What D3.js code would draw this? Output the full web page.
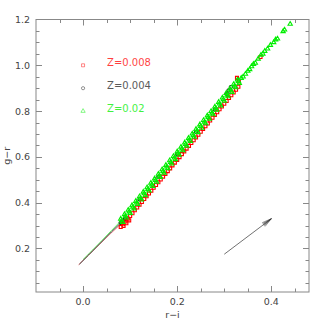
<!DOCTYPE html>
<html>
<head>
<meta charset="utf-8">
<script src="https://d3js.org/d3.v7.min.js"></script>
<style>
  body { margin: 0; background: #fff; }
  text { font-family: "DejaVu Sans", sans-serif; }
</style>
</head>
<body>
<svg id="chart" width="327" height="327"></svg>
<script>

// legend entries
var labels  = ["Z=0.008", "Z=0.004", "Z=0.02"];
var colours = ["#ff0000", "#222222", "#00ee00"];

var xTicks = [0.0, 0.2, 0.4];
var yTicks = [0.2, 0.4, 0.6, 0.8, 1.0, 1.2];

// thin tails of the tracks (drawn as lines)
var tailRed   = [[-0.010, 0.128], [0.010, 0.168], [0.035, 0.218], [0.060, 0.268], [0.082, 0.308]];
var tailBlack = [[-0.008, 0.131], [0.012, 0.172], [0.037, 0.224], [0.060, 0.272], [0.080, 0.312]];
var tailGreen = [[0.000, 0.152], [0.020, 0.193], [0.040, 0.235], [0.060, 0.278], [0.080, 0.320]];

// Z=0.008, squares
var red = [
  [0.080, 0.294], [0.085, 0.306], [0.090, 0.318], [0.095, 0.330], [0.100, 0.342],
  [0.086, 0.298], [0.092, 0.310], [0.098, 0.323],
  [0.105, 0.354], [0.110, 0.367], [0.115, 0.379], [0.120, 0.391], [0.125, 0.403],
  [0.130, 0.416], [0.135, 0.428], [0.140, 0.440], [0.145, 0.452], [0.150, 0.465],
  [0.155, 0.477], [0.160, 0.489], [0.165, 0.501], [0.170, 0.514], [0.175, 0.526],
  [0.180, 0.538], [0.185, 0.550], [0.190, 0.563], [0.195, 0.575], [0.200, 0.587],
  [0.205, 0.599], [0.210, 0.612], [0.215, 0.624], [0.220, 0.636], [0.225, 0.648],
  [0.230, 0.661], [0.235, 0.673], [0.240, 0.685], [0.245, 0.697], [0.250, 0.710],
  [0.255, 0.722], [0.260, 0.734], [0.265, 0.746], [0.270, 0.759], [0.275, 0.771],
  [0.280, 0.783], [0.285, 0.795], [0.290, 0.808], [0.295, 0.820], [0.300, 0.832],
  [0.305, 0.844], [0.310, 0.857], [0.315, 0.869], [0.320, 0.881], [0.325, 0.893],
  [0.330, 0.906], [0.331, 0.929], [0.327, 0.945], [0.377, 1.036]
];

// Z=0.004, circles
var black = [
  [0.080, 0.312], [0.083, 0.318], [0.086, 0.322], [0.089, 0.330], [0.092, 0.334],
  [0.120, 0.415], [0.160, 0.513], [0.200, 0.611], [0.240, 0.709], [0.280, 0.807],
  [0.305, 0.875], [0.309, 0.890], [0.314, 0.905]
];

// Z=0.02, triangles (upper edge, centre and lower edge of the band, then the sparse top)
var green = [
  [0.080, 0.329], [0.088, 0.349], [0.096, 0.368], [0.104, 0.388], [0.112, 0.407],
  [0.120, 0.427], [0.128, 0.447], [0.136, 0.466], [0.144, 0.486], [0.152, 0.505],
  [0.160, 0.525], [0.168, 0.545], [0.176, 0.564], [0.184, 0.584], [0.192, 0.603],
  [0.200, 0.623], [0.208, 0.643], [0.216, 0.662], [0.224, 0.682], [0.232, 0.701],
  [0.240, 0.721], [0.248, 0.741], [0.256, 0.760], [0.264, 0.780], [0.272, 0.799],
  [0.280, 0.819], [0.288, 0.839], [0.296, 0.858], [0.304, 0.878], [0.312, 0.897],
  [0.320, 0.917], [0.328, 0.937],
  [0.082, 0.322], [0.090, 0.342], [0.098, 0.361], [0.106, 0.381], [0.114, 0.400],
  [0.122, 0.420], [0.130, 0.440], [0.138, 0.459], [0.146, 0.479], [0.154, 0.498],
  [0.162, 0.518], [0.170, 0.538], [0.178, 0.557], [0.186, 0.577], [0.194, 0.596],
  [0.202, 0.616], [0.210, 0.636], [0.218, 0.655], [0.226, 0.675], [0.234, 0.694],
  [0.242, 0.714], [0.250, 0.734], [0.258, 0.753], [0.266, 0.773], [0.274, 0.792],
  [0.282, 0.812], [0.290, 0.832], [0.298, 0.851], [0.306, 0.871], [0.314, 0.890],
  [0.322, 0.910], [0.330, 0.930],
  [0.084, 0.315], [0.092, 0.334], [0.100, 0.354], [0.108, 0.374], [0.116, 0.393],
  [0.124, 0.413], [0.132, 0.432], [0.140, 0.452], [0.148, 0.472], [0.156, 0.491],
  [0.164, 0.511], [0.172, 0.530], [0.180, 0.550], [0.188, 0.570], [0.196, 0.589],
  [0.204, 0.609], [0.212, 0.628], [0.220, 0.648], [0.228, 0.668], [0.236, 0.687],
  [0.244, 0.707], [0.252, 0.726], [0.260, 0.746], [0.268, 0.766], [0.276, 0.785],
  [0.284, 0.805], [0.292, 0.824], [0.300, 0.844], [0.308, 0.864], [0.316, 0.883],
  [0.324, 0.903], [0.332, 0.922],
  [0.336, 0.944], [0.340, 0.950], [0.345, 0.962], [0.350, 0.975], [0.354, 0.982],
  [0.358, 0.995], [0.362, 1.005], [0.366, 1.010], [0.372, 1.028], [0.378, 1.045],
  [0.382, 1.050], [0.386, 1.062], [0.392, 1.072], [0.398, 1.088], [0.405, 1.100],
  [0.409, 1.112], [0.413, 1.116], [0.425, 1.148], [0.428, 1.155], [0.440, 1.180]
];

// reddening arrow
var arrow = [[0.30, 0.175], [0.40, 0.330]];

var padL = 36, padR = 309, padT = 19.5, padB = 292;

var x = d3.scaleLinear().domain([-0.1, 0.48]).range([padL, padR]);
var y = d3.scaleLinear().domain([0.01, 1.2]).range([padB, padT]);

var svg = d3.select("#chart");
var axisCol = "#888";
var textCol = "#444";

// frame
svg.append("rect")
  .attr("x", padL).attr("y", padT)
  .attr("width", padR - padL).attr("height", padB - padT)
  .attr("fill", "none").attr("stroke", axisCol).attr("stroke-width", 1);

// ticks on all four sides
var minorX = d3.range(-0.05, 0.48, 0.05);
var minorY = d3.range(0.05, 1.2, 0.05);

function isMajor(v) { return Math.abs(v * 5 - Math.round(v * 5)) < 1e-6; }

minorX.forEach(function(v) {
  var len = isMajor(v) ? 6 : 3.5;
  var px = Math.round(x(v)) + 0.5;
  svg.append("line").attr("x1", px).attr("x2", px).attr("y1", padB).attr("y2", padB - len)
    .attr("stroke", axisCol);
  svg.append("line").attr("x1", px).attr("x2", px).attr("y1", padT).attr("y2", padT + len)
    .attr("stroke", axisCol);
});

minorY.forEach(function(v) {
  var len = isMajor(v) ? 6 : 3.5;
  var py = Math.round(y(v)) + 0.5;
  svg.append("line").attr("x1", padL).attr("x2", padL + len).attr("y1", py).attr("y2", py)
    .attr("stroke", axisCol);
  svg.append("line").attr("x1", padR).attr("x2", padR - len).attr("y1", py).attr("y2", py)
    .attr("stroke", axisCol);
});

// tick labels
svg.selectAll(".xl").data(xTicks).enter().append("text")
  .attr("x", function(d) { return x(d); })
  .attr("y", padB + 13)
  .attr("text-anchor", "middle")
  .attr("font-size", 9.5)
  .attr("fill", textCol)
  .text(function(d) { return d.toFixed(1); });

svg.selectAll(".yl").data(yTicks).enter().append("text")
  .attr("x", padL - 6)
  .attr("y", function(d) { return y(d) + 3.5; })
  .attr("text-anchor", "end")
  .attr("font-size", 9.5)
  .attr("fill", textCol)
  .text(function(d) { return d.toFixed(1); });

// axis titles
svg.append("text")
  .attr("x", (padL + padR) / 2).attr("y", 318)
  .attr("text-anchor", "middle").attr("font-size", 9.5).attr("fill", textCol)
  .text("r\u2212i");

svg.append("text")
  .attr("transform", "translate(10," + ((padT + padB) / 2) + ") rotate(-90)")
  .attr("text-anchor", "middle").attr("font-size", 9.5).attr("fill", textCol)
  .text("g\u2212r");

// tails
var line = d3.line()
  .x(function(d) { return x(d[0]); })
  .y(function(d) { return y(d[1]); });

svg.append("path").attr("d", line(tailRed)).attr("fill", "none")
  .attr("stroke", "#ff8080").attr("stroke-width", 0.8);
svg.append("path").attr("d", line(tailGreen)).attr("fill", "none")
  .attr("stroke", "#44ee44").attr("stroke-width", 0.8);
svg.append("path").attr("d", line(tailBlack)).attr("fill", "none")
  .attr("stroke", "#222").attr("stroke-width", 0.9);

// points
var shapes = [d3.symbolSquare, d3.symbolCircle, d3.symbolTriangle];
var sizes  = [9, 8, 8];

function drawSeries(data, i) {
  svg.append("g").selectAll("path").data(data).enter().append("path")
    .attr("transform", function(d) { return "translate(" + x(d[0]) + "," + y(d[1]) + ")"; })
    .attr("d", d3.symbol().type(shapes[i]).size(sizes[i]))
    .attr("fill", "none")
    .attr("stroke", colours[i])
    .attr("stroke-width", 1.1);
}

drawSeries(black, 1);
drawSeries(red, 0);
drawSeries(green, 2);

// legend
labels.forEach(function(lab, i) {
  var ly = 1.0 - i * 0.1;
  svg.append("path")
    .attr("transform", "translate(" + x(0.0) + "," + y(ly) + ")")
    .attr("d", d3.symbol().type(shapes[i]).size(sizes[i]))
    .attr("fill", "none").attr("stroke", colours[i]).attr("stroke-width", 0.8)
    .attr("opacity", 0.6);
  svg.append("text")
    .attr("x", x(0.051)).attr("y", y(ly) + 1)
    .attr("font-size", 10)
    .attr("fill", colours[i])
    .attr("opacity", 0.75)
    .text(lab);
});

// arrow
var ax0 = x(arrow[0][0]), ay0 = y(arrow[0][1]);
var ax1 = x(arrow[1][0]), ay1 = y(arrow[1][1]);
var ang = Math.atan2(ay1 - ay0, ax1 - ax0);

svg.append("line")
  .attr("x1", ax0).attr("y1", ay0).attr("x2", ax1).attr("y2", ay1)
  .attr("stroke", "#333").attr("stroke-width", 0.7);

[-0.24, -0.14, -0.05, 0.05, 0.14, 0.24].forEach(function(da) {
  svg.append("line")
    .attr("x1", ax1).attr("y1", ay1)
    .attr("x2", ax1 - 10 * Math.cos(ang + da))
    .attr("y2", ay1 - 10 * Math.sin(ang + da))
    .attr("stroke", "#333").attr("stroke-width", 0.5);
});

</script>
</body>
</html>
